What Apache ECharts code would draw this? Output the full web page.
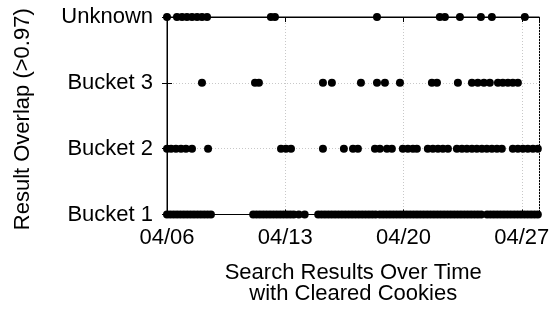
<!DOCTYPE html>
<html>
<head>
<meta charset="utf-8">
<script src="https://cdn.jsdelivr.net/npm/echarts@6/dist/echarts.min.js"></script>
<style>
  html, body { margin: 0; padding: 0; background: #fff; }
  #chart { width: 560px; height: 310px; }
</style>
</head>
<body>
<div id="chart"></div>
<script>
// x values are days since 04/06
const buckets = ["Bucket 1", "Bucket 2", "Bucket 3", "Unknown"];
const tickDates = ["04/06", "04/13", "04/20", "04/27"];

const bucket1Days = [
  0, 0.2, 0.4, 0.6, 0.8, 1.0, 1.2, 1.4, 1.6, 1.8, 2.0, 2.2, 2.4, 2.6,
  5.1, 5.3, 5.5, 5.7, 5.9, 6.1, 6.3, 6.5, 6.7, 6.9, 7.1, 7.3, 7.5, 7.8,
  8.15,
  8.95, 9.15, 9.35, 9.55, 9.75, 9.95, 10.15, 10.35, 10.55, 10.75, 10.95, 11.15, 11.35, 11.55, 11.75, 11.95, 12.15, 12.35,
  12.6, 12.8, 13.0, 13.2, 13.4, 13.6, 13.8, 14.0, 14.2, 14.4, 14.6, 14.8, 15.0, 15.2, 15.4, 15.6, 15.8,
  16.0, 16.2, 16.4, 16.6, 16.8, 17.0, 17.2, 17.4, 17.6, 17.8, 18.0, 18.2, 18.4, 18.6,
  18.95, 19.15, 19.35, 19.55, 19.75, 19.95, 20.15, 20.35, 20.55, 20.75, 20.95, 21.15, 21.35, 21.55, 21.75, 21.95
];
const bucket2Days = [
  0, 0.24, 0.53, 0.83, 1.12, 1.48, 2.43, 6.75, 7.04, 7.34, 9.23, 10.47, 11.01, 11.3,
  12.31, 12.6, 13.02, 13.31, 13.96, 14.26, 14.56, 14.79, 15.44, 15.74, 16.04, 16.33, 16.63,
  17.16, 17.46, 17.75, 18.05, 18.34, 18.64, 18.93, 19.23, 19.53, 19.82,
  20.47, 20.77, 21.07, 21.36, 21.66, 21.95
];
const bucket3Days = [
  2.07, 5.21, 5.44, 9.23, 9.76, 11.48, 12.43, 12.9, 13.79, 15.68, 15.98, 17.22,
  18.05, 18.4, 18.76, 19.11, 19.59, 19.88, 20.18, 20.47, 20.77
];
const unknownDays = [
  0, 0.59, 0.89, 1.18, 1.48, 1.78, 2.07, 2.37, 6.15, 6.39, 12.43,
  16.15, 16.45, 17.34, 18.58, 19.23, 21.18
];

const allDays = [bucket1Days, bucket2Days, bucket3Days, unknownDays];
const points = [];
allDays.forEach((days, i) => {
  days.forEach((d) => points.push([d, buckets[i]]));
});

const font = "Liberation Sans";
const gridLine = { show: true, lineStyle: { color: "#c8c8c8", type: [1, 2], width: 1 } };

const chart = echarts.init(document.getElementById("chart"));
chart.setOption({
  animation: false,
  textStyle: { fontFamily: font, color: "#000" },
  grid: { left: 167, right: 20.5, top: 17, bottom: 94, show: true, borderColor: "#000", borderWidth: 1 },
  xAxis: [
    {
      type: "value", min: 0, max: 22.05, interval: 7,
      axisLine: { show: true, lineStyle: { color: "#000" } },
      axisTick: { show: true, inside: true, length: 5, lineStyle: { color: "#000" } },
      splitLine: gridLine,
      axisLabel: {
        color: "#000", fontSize: 22, fontFamily: font, margin: 12,
        showMaxLabel: false,
        formatter: (v) => (Math.abs(v % 7) < 1e-6 ? tickDates[Math.round(v / 7)] : "")
      },
      name: "Search Results Over Time\nwith Cleared Cookies",
      nameLocation: "middle", nameGap: 48,
      nameTextStyle: { color: "#000", fontSize: 22, fontFamily: font, lineHeight: 21 }
    },
    {
      type: "value", position: "top", min: 0, max: 22.05, interval: 7,
      axisLine: { show: true, lineStyle: { color: "#000" } },
      axisTick: { show: true, inside: true, length: 5, lineStyle: { color: "#000" } },
      axisLabel: { show: false }, splitLine: { show: false }
    }
  ],
  yAxis: [
    {
      type: "category", data: buckets, boundaryGap: false,
      axisLine: { show: true, lineStyle: { color: "#000" } },
      axisTick: { show: true, inside: true, length: 5, lineStyle: { color: "#000" } },
      splitLine: gridLine,
      axisLabel: { color: "#000", fontSize: 22, fontFamily: font, margin: 14 },
      name: "Result Overlap (>0.97)",
      nameLocation: "middle", nameGap: 133,
      nameTextStyle: { color: "#000", fontSize: 22, fontFamily: font, padding: [0, 7, 0, 0] }
    },
    {
      type: "category", data: buckets, boundaryGap: false, position: "right",
      axisLine: { show: true, lineStyle: { color: "#000" } },
      axisTick: { show: true, inside: true, length: 5, lineStyle: { color: "#000" } },
      axisLabel: { show: false }, splitLine: { show: false }
    }
  ],
  series: [
    {
      type: "scatter",
      data: points,
      symbol: "circle",
      symbolSize: 8,
      itemStyle: { color: "#000", opacity: 1 },
      clip: false
    }
  ]
});
</script>
</body>
</html>
